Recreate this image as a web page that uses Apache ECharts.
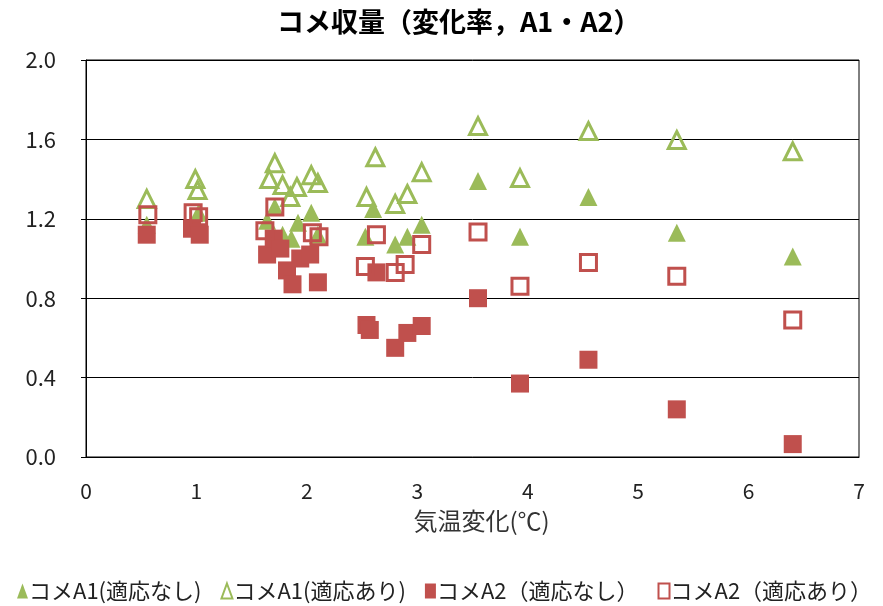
<!DOCTYPE html>
<html><head><meta charset="utf-8">
<script src="https://cdn.jsdelivr.net/npm/echarts@6/dist/echarts.min.js"></script>
<style>html,body{margin:0;padding:0;background:#fff}#c{width:883px;height:606px}</style>
</head><body><div id="c"></div>
<script>
var seriesNames = ['コメA1(適応なし)', 'コメA1(適応あり)', 'コメA2（適応なし）', 'コメA2（適応あり）'];
var xTicks = [0, 1, 2, 3, 4, 5, 6, 7];
var yTicks = [0.0, 0.4, 0.8, 1.2, 1.6, 2.0];

var xA1none = [0.55, 0.97, 1.02, 1.64, 1.71, 1.78, 1.86, 1.92, 2.04, 2.10, 2.53, 2.60, 2.80, 2.91, 3.04, 3.55, 3.93, 4.55, 5.35, 6.40];
var yA1none = [1.17, 1.16, 1.23, 1.19, 1.26, 1.12, 1.10, 1.18, 1.23, 1.12, 1.11, 1.25, 1.07, 1.11, 1.17, 1.39, 1.11, 1.31, 1.13, 1.01];

var xA1adapt = [0.55, 0.99, 1.01, 1.66, 1.71, 1.78, 1.85, 1.91, 2.04, 2.10, 2.54, 2.62, 2.80, 2.91, 3.04, 3.55, 3.93, 4.55, 5.35, 6.40];
var yA1adapt = [1.30, 1.40, 1.345, 1.40, 1.48, 1.37, 1.31, 1.36, 1.42, 1.38, 1.31, 1.51, 1.275, 1.325, 1.435, 1.667, 1.405, 1.642, 1.597, 1.54];

var xA2none = [0.55, 0.96, 1.03, 1.64, 1.70, 1.76, 1.82, 1.87, 1.94, 2.03, 2.10, 2.54, 2.57, 2.63, 2.80, 2.91, 3.04, 3.55, 3.93, 4.55, 5.35, 6.40];
var yA2none = [1.12, 1.15, 1.12, 1.02, 1.10, 1.05, 0.94, 0.87, 1.00, 1.02, 0.88, 0.665, 0.64, 0.93, 0.55, 0.625, 0.66, 0.80, 0.37, 0.49, 0.24, 0.065];

var xA2adapt = [0.56, 0.97, 1.02, 1.62, 1.71, 2.05, 2.11, 2.53, 2.63, 2.80, 2.89, 3.04, 3.55, 3.93, 4.55, 5.35, 6.40];
var yA2adapt = [1.22, 1.23, 1.21, 1.14, 1.26, 1.13, 1.11, 0.96, 1.12, 0.93, 0.97, 1.07, 1.133, 0.86, 0.98, 0.91, 0.69];

function pairs(xs, ys) { return xs.map(function (x, i) { return [x, ys[i]]; }); }

var GREEN = '#9BBB59', RED = '#C0504D';
var FONT = '"Noto Sans CJK JP", "Noto Sans", sans-serif';

var chart = echarts.init(document.getElementById('c'), null, { renderer: 'canvas' });
chart.setOption({
  animation: false,
  backgroundColor: '#fff',
  title: {
    text: 'コメ収量（変化率，A1・A2）',
    left: 272, top: 3,
    textStyle: { fontFamily: FONT, fontSize: 27, fontWeight: 'bold', color: '#000' }
  },
  grid: { left: 86, right: 24, top: 60, bottom: 149, show: true, borderColor: '#000', borderWidth: 1, backgroundColor: 'transparent' },
  xAxis: {
    type: 'value', min: xTicks[0], max: xTicks[xTicks.length - 1], interval: 1,
    name: '気温変化(℃)', nameLocation: 'middle', nameGap: 52,
    nameTextStyle: { fontFamily: FONT, fontSize: 24, color: '#333', padding: [0, 0, 0, 18] },
    axisLine: { show: true, lineStyle: { color: '#000', width: 1 } },
    axisTick: { show: false },
    splitLine: { show: false },
    axisLabel: { margin: 24, fontFamily: FONT, fontSize: 21, color: '#222' }
  },
  yAxis: {
    type: 'value', min: yTicks[0], max: yTicks[yTicks.length - 1], interval: 0.4,
    axisLine: { show: true, lineStyle: { color: '#000', width: 1 } },
    axisTick: { show: true, inside: false, length: 5, lineStyle: { color: '#000' } },
    splitLine: { show: true, lineStyle: { color: '#000', width: 1 } },
    axisLabel: { margin: 30, fontFamily: FONT, fontSize: 22, color: '#222', formatter: function (v) { return v.toFixed(1); } }
  },
  legend: {
    bottom: 4, left: 17, width: 866, padding: 0, itemGap: 19, itemWidth: 11, itemHeight: 15,
    textStyle: { fontFamily: FONT, fontSize: 22, color: '#222', padding: [0, 0, 0, -4] },
    data: seriesNames
  },
  series: [
    { name: seriesNames[0], type: 'scatter', symbol: 'triangle', symbolSize: 18,
      itemStyle: { color: GREEN, opacity: 1 }, data: pairs(xA1none, yA1none) },
    { name: seriesNames[1], type: 'scatter', symbol: 'triangle', symbolSize: 17,
      itemStyle: { color: 'rgba(255,255,255,0)', borderColor: GREEN, borderWidth: 3, opacity: 1 }, data: pairs(xA1adapt, yA1adapt) },
    { name: seriesNames[2], type: 'scatter', symbol: 'rect', symbolSize: 18,
      itemStyle: { color: RED, opacity: 1 }, data: pairs(xA2none, yA2none) },
    { name: seriesNames[3], type: 'scatter', symbol: 'rect', symbolSize: 16,
      itemStyle: { color: 'rgba(255,255,255,0)', borderColor: RED, borderWidth: 3, opacity: 1 }, data: pairs(xA2adapt, yA2adapt) }
  ]
});
</script>
</body></html>
